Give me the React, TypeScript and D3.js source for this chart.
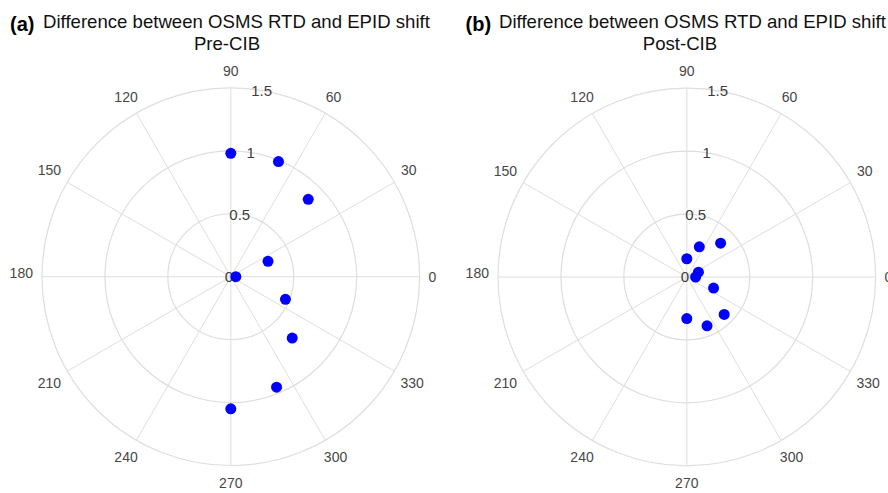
import React from "react";
import * as d3 from "d3";

const thetaTicks = [0, 30, 60, 90, 120, 150, 180, 210, 240, 270, 300, 330];
const rTicks = [0, 0.5, 1, 1.5];
const rMax = 1.5;

const preTheta = [90, 67.5, 45, 22.5, 0, 337.5, 315, 292.5, 270];
const preR = [0.98, 0.99, 0.87, 0.32, 0.04, 0.47, 0.69, 0.95, 1.05];

const postTheta = [45, 67.5, 90, 22.5, 0, 337.5, 315, 292.5, 270];
const postR = [0.38, 0.26, 0.145, 0.1, 0.07, 0.23, 0.42, 0.42, 0.33];

const panels = [
  { tag: "(a)", title: "Difference between OSMS RTD and EPID shift", sub: "Pre-CIB", theta: preTheta, r: preR, cx: 230.8, cy: 276.7, tagX: 10, titleX: 43, subX: 227 },
  { tag: "(b)", title: "Difference between OSMS RTD and EPID shift", sub: "Post-CIB", theta: postTheta, r: postR, cx: 686.8, cy: 277, tagX: 465.5, titleX: 499, subX: 680 },
];

const R = 188.8;
const FONT = "'Liberation Sans', Arial, Helvetica, sans-serif";

function Polar({ p }: { p: any }) {
  const rs = d3.scaleLinear().domain([0, rMax]).range([0, R]);
  const rad = (deg: number) => (deg * Math.PI) / 180;
  const px = (r: number, t: number) => p.cx + rs(r) * Math.cos(rad(t));
  const py = (r: number, t: number) => p.cy - rs(r) * Math.sin(rad(t));
  const grid = "#dedede";
  return (
    <g>
      <text x={p.tagX} y={31} fontFamily={FONT} fontWeight="bold" fontSize={20} fill="#000">{p.tag}</text>
      <text x={p.titleX} y={28} fontFamily={FONT} fontSize={18.6} fill="#111">{p.title}</text>
      <text x={p.subX} y={50} fontFamily={FONT} fontSize={18.6} fill="#111" textAnchor="middle">{p.sub}</text>
      {thetaTicks.map((t) => (
        <line key={"s" + t} x1={p.cx} y1={p.cy} x2={px(rMax, t)} y2={py(rMax, t)} stroke={grid} strokeWidth={1} />
      ))}
      {rTicks.filter((v) => v > 0).map((v) => (
        <circle key={"c" + v} cx={p.cx} cy={p.cy} r={rs(v)} fill="none" stroke={grid} strokeWidth={1.2} />
      ))}
      {thetaTicks.map((t) => {
        const label = String(t);
        const hw = label.length * 3.9;
        const c = Math.cos(rad(t));
        const s = Math.sin(rad(t));
        const x = p.cx + (R + 9 + hw) * c;
        const y = p.cy - (R + 17) * s - Math.sign(s) * 4 * Math.abs(c);
        return (
          <text key={"l" + t} x={x} y={y} dy="0.36em" textAnchor="middle" fontFamily={FONT} fontSize={14} fill="#474747">{label}</text>
        );
      })}
      {rTicks.map((v) => (
        <text key={"r" + v} x={px(v, 80) - 2} y={py(v, 80)} dy="0.36em" textAnchor="middle" fontFamily={FONT} fontSize={15} fill="#3d3d3d">{String(v)}</text>
      ))}
      {p.theta.map((t: number, i: number) => (
        <circle key={"p" + i} cx={px(p.r[i], t)} cy={py(p.r[i], t)} r={5.5} fill="#0000ff" />
      ))}
    </g>
  );
}

export default function App() {
  return (
    <svg width={888} height={493} style={{ position: "absolute", left: 0, top: 0, background: "#fff" }}>
      <rect x={0} y={0} width={888} height={493} fill="#fff" />
      {panels.map((p) => (
        <Polar key={p.tag} p={p} />
      ))}
    </svg>
  );
}
